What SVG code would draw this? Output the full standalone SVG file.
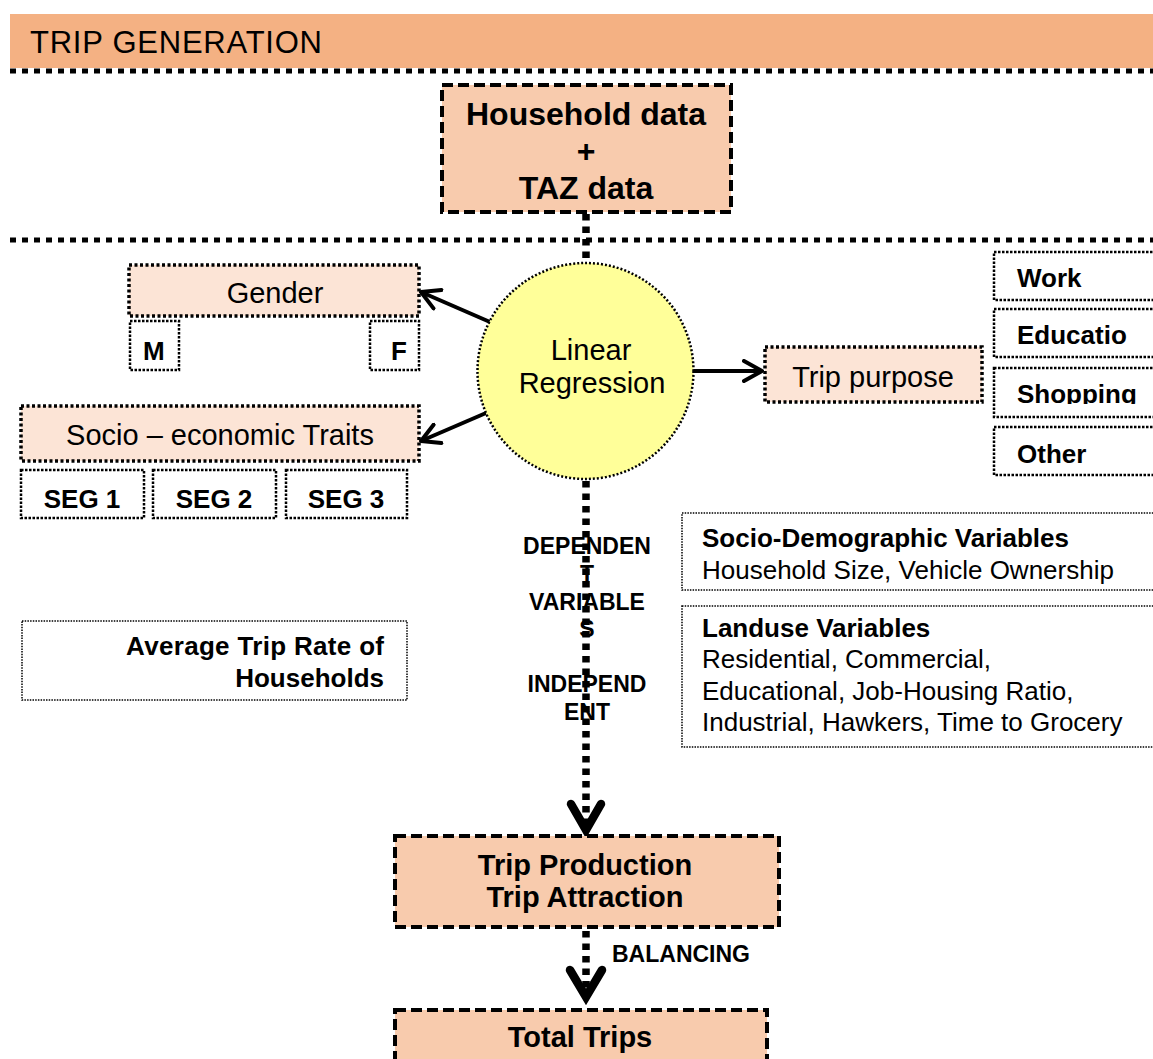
<svg xmlns="http://www.w3.org/2000/svg" width="1153" height="1059" viewBox="0 0 1153 1059">
  <style>
    text { font-family: "Liberation Sans", Arial, sans-serif; fill: #000; }
    .b { font-weight: bold; }
    .mid { text-anchor: middle; }
    .end { text-anchor: end; }
    .f29 { font-size: 29px; }
    .f26 { font-size: 26px; }
    .f23 { font-size: 23px; }
    .main { fill: #F8CBAD; stroke: #000; stroke-width: 4; stroke-dasharray: 11 5; }
    .soft { fill: #FCE4D6; stroke: #000; stroke-width: 3.5; stroke-dasharray: 3 2.5; }
    .opt { fill: #fff; stroke: #000; stroke-width: 2.5; stroke-dasharray: 2.5 1.5; }
    .thin { fill: #fff; stroke: #000; stroke-width: 1.5; stroke-dasharray: 1.5 1.2; }
    .sep { fill: none; stroke: #000; stroke-width: 5; stroke-dasharray: 6 6; }
    .flow { fill: none; stroke: #000; stroke-width: 7.5; stroke-dasharray: 6.5 6; }
    .link { fill: none; stroke: #000; stroke-width: 4; }
    .head { fill: none; stroke: #000; stroke-width: 8.5; stroke-linejoin: miter; stroke-linecap: round; }
  </style>
  <defs>
    <marker id="open" viewBox="0 0 22 24" refX="20" refY="12" markerWidth="22" markerHeight="24" markerUnits="userSpaceOnUse" orient="auto">
      <path d="M2,2 L20,12 L2,22" fill="none" stroke="#000" stroke-width="4" stroke-linecap="round" stroke-linejoin="round"/>
    </marker>
    <clipPath id="clipShop"><rect x="990" y="365" width="170" height="39"/></clipPath>
    <clipPath id="clipSocioDemo"><rect x="680" y="510" width="480" height="78"/></clipPath>
  </defs>

  <!-- header band -->
  <g id="header">
    <rect x="10" y="14" width="1143" height="54" fill="#F4B183"/>
    <text x="30" y="53" font-size="31" textLength="292">TRIP GENERATION</text>
  </g>
  <line class="sep" x1="10" y1="71" x2="1153" y2="71"/>
  <line class="sep" x1="10" y1="240" x2="1153" y2="240"/>

  <!-- connectors -->
  <g id="connectors">
    <line class="flow" x1="586" y1="214" x2="586" y2="262"/>
    <line class="link" x1="490" y1="322" x2="421" y2="292" marker-end="url(#open)"/>
    <line class="link" x1="486" y1="413" x2="421" y2="441" marker-end="url(#open)"/>
    <line class="link" x1="693" y1="371" x2="762" y2="371" marker-end="url(#open)"/>
  </g>

  <g id="household">
    <rect class="main" x="442" y="85" width="289" height="127"/>
    <text class="b mid" x="586" y="125" font-size="32">Household data</text>
    <text class="b mid" x="586" y="162" font-size="32">+</text>
    <text class="b mid" x="586" y="199" font-size="32">TAZ data</text>
  </g>

  <g id="regression">
    <circle cx="585.5" cy="371" r="108" fill="#FFFF99" stroke="#000" stroke-width="2.5" stroke-dasharray="2 2"/>
    <text class="mid f29" x="591" y="360">Linear</text>
    <text class="mid f29" x="592" y="393">Regression</text>
  </g>

  <g id="gender">
    <rect class="soft" x="129" y="265" width="290" height="51"/>
    <text class="mid f29" x="275" y="303">Gender</text>
  </g>
  <g id="gender-m">
    <rect class="opt" x="130" y="321" width="49" height="49"/>
    <text class="b f26" x="143" y="360">M</text>
  </g>
  <g id="gender-f">
    <rect class="opt" x="370" y="321" width="49" height="49"/>
    <text class="b f26" x="391" y="360">F</text>
  </g>

  <g id="socio-economic">
    <rect class="soft" x="21" y="406" width="398" height="55"/>
    <text class="mid f29" x="220" y="445">Socio – economic Traits</text>
  </g>
  <g id="seg1">
    <rect class="opt" x="21" y="470" width="123" height="48"/>
    <text class="b mid f26" x="82" y="508">SEG 1</text>
  </g>
  <g id="seg2">
    <rect class="opt" x="153" y="470" width="123" height="48"/>
    <text class="b mid f26" x="214" y="508">SEG 2</text>
  </g>
  <g id="seg3">
    <rect class="opt" x="286" y="470" width="121" height="48"/>
    <text class="b mid f26" x="346" y="508">SEG 3</text>
  </g>

  <g id="trip-purpose">
    <rect class="soft" x="765" y="347" width="217" height="55"/>
    <text class="mid f29" x="873" y="387">Trip purpose</text>
  </g>
  <g id="purpose-work">
    <rect class="opt" x="994" y="252" width="180" height="48"/>
    <text class="b f26" x="1017" y="287">Work</text>
  </g>
  <g id="purpose-education">
    <rect class="opt" x="994" y="309" width="180" height="48"/>
    <text class="b f26" x="1017" y="344">Educatio</text>
  </g>
  <g id="purpose-shopping">
    <rect class="opt" x="994" y="368" width="180" height="49"/>
    <text class="b f26" x="1017" y="403" clip-path="url(#clipShop)">Shopping</text>
  </g>
  <g id="purpose-other">
    <rect class="opt" x="994" y="427" width="180" height="48"/>
    <text class="b f26" x="1017" y="463">Other</text>
  </g>

  <g id="socio-demographic">
    <rect class="thin" x="682" y="513" width="490" height="77"/>
    <text class="b f26" x="702" y="547">Socio-Demographic Variables</text>
    <text class="f26" x="702" y="579" clip-path="url(#clipSocioDemo)">Household Size, Vehicle Ownership</text>
  </g>

  <g id="landuse">
    <rect class="thin" x="682" y="606" width="490" height="141"/>
    <text class="b f26" x="702" y="637">Landuse Variables</text>
    <text class="f26" x="702" y="668">Residential, Commercial,</text>
    <text class="f26" x="702" y="700">Educational, Job-Housing Ratio,</text>
    <text class="f26" x="702" y="731">Industrial, Hawkers, Time to Grocery</text>
  </g>

  <g id="average-trip-rate">
    <rect class="thin" x="22" y="621" width="385" height="79"/>
    <text class="b end f26" x="384" y="655" textLength="258">Average Trip Rate of</text>
    <text class="b end f26" x="384" y="687">Households</text>
  </g>

  <!-- labels along the main flow -->
  <g id="flow-labels">
    <text class="b mid f23" x="587" y="554">DEPENDEN</text>
    <text class="b mid f23" x="587" y="582">T</text>
    <text class="b mid f23" x="587" y="610">VARIABLE</text>
    <text class="b mid f23" x="587" y="637">S</text>
    <text class="b mid f23" x="587" y="692">INDEPEND</text>
    <text class="b mid f23" x="587" y="720">ENT</text>
    <text class="b f23" x="612" y="962">BALANCING</text>
  </g>

  <g id="main-flow">
    <line class="flow" x1="586" y1="481" x2="586" y2="826"/>
    <path class="head" d="M571,804 L586,830 L601,804"/>
    <line class="flow" x1="586" y1="931" x2="586" y2="995"/>
    <path class="head" d="M570,970 L586,997 L602,970"/>
  </g>

  <g id="trip-production">
    <rect class="main" x="395" y="836" width="384" height="91"/>
    <text class="b mid f29" x="585" y="875">Trip Production</text>
    <text class="b mid f29" x="585" y="907">Trip Attraction</text>
  </g>

  <g id="total-trips">
    <rect class="main" x="395" y="1010" width="372" height="70"/>
    <text class="b mid f29" x="580" y="1047">Total Trips</text>
  </g>
</svg>
